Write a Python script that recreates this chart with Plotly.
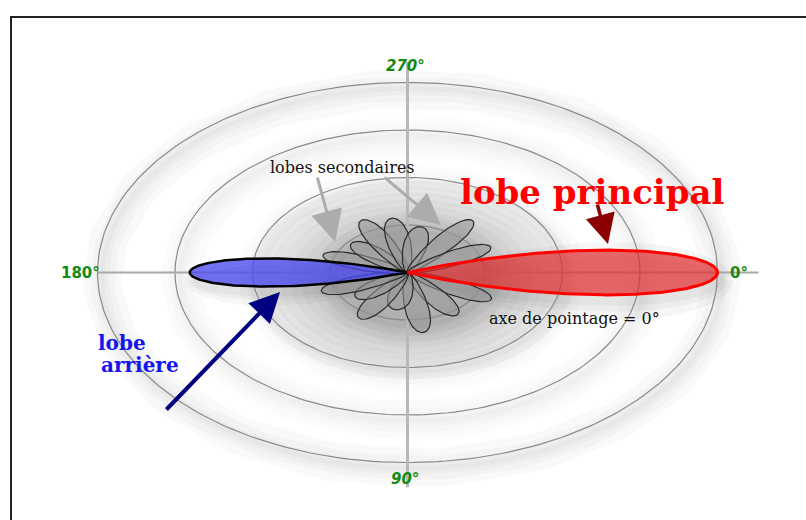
import numpy as np
import plotly.graph_objects as go

# --- Radiation pattern data (angles in degrees, 90° pointing down, radii in grid units) ---
ring_radii = [1, 2, 3, 4]
angle_labels = ["0°", "90°", "180°", "270°"]

# main lobe: direction, length, half beamwidth
main_lobe = {"angle": 0, "length": 4.0, "halfwidth": 19}
# back lobe
back_lobe = {"angle": 180, "length": 2.81, "halfwidth": 17}
# side lobes: direction, length, half thickness
side_angles = [28, 55, 81, 101, 122, 141, 160, 199, 221, 242, 260, 280, 307, 333]
side_lengths = [1.22, 1.10, 1.28, 0.80, 1.15, 0.85, 1.18, 1.15, 0.95, 1.25, 1.16, 0.98, 1.38, 1.20]
side_thickness = 0.19


def lobe_xy(angle, length, halfwidth, n=90):
    """Outline of the main/back lobe: a cosine beam starting at the origin."""
    d = np.linspace(-halfwidth, halfwidth, n)
    r = length * np.cos(np.pi / 2 * d / halfwidth)
    th = np.radians(angle + d)
    return r * np.cos(th), r * np.sin(th)


def petal_xy(angle, length, thickness, n=80):
    """Elongated petal with one end on the origin."""
    t = np.linspace(0, 2 * np.pi, n)
    u = length / 2 * (1 - np.cos(t))
    v = thickness * np.sin(t) * (0.55 + 0.45 * u / length)
    a = np.radians(angle)
    return u * np.cos(a) - v * np.sin(a), u * np.sin(a) + v * np.cos(a)


def ellipse_xy(r, n=240):
    th = np.linspace(0, 2 * np.pi, n)
    return r * np.cos(th), r * np.sin(th)


fig = go.Figure()


def add_line(x, y, color, width):
    fig.add_trace(go.Scatter(x=x, y=y, mode="lines", line=dict(color=color, width=width),
                             hoverinfo="skip", showlegend=False))


def add_fill(x, y, fillcolor, linecolor="rgba(0,0,0,0)", width=0):
    fig.add_trace(go.Scatter(x=x, y=y, mode="lines", fill="toself", fillcolor=fillcolor,
                             line=dict(color=linecolor, width=width),
                             hoverinfo="skip", showlegend=False))


# soft drop shadow under the rings
for rr in ring_radii:
    gx, gy = ellipse_xy(rr)
    strength = 0.025 if rr == 4 else 0.016
    for w in (38, 24, 13, 5):
        add_line(gx + 0.06, gy + 0.12, f"rgba(0,0,0,{strength})", w)

# soft shadow around the lobe cluster
for rh in np.linspace(2.1, 0.9, 10):
    hx, hy = ellipse_xy(rh)
    add_fill(hx + 0.05, hy + 0.15, "rgba(0,0,0,0.03)")
for a, L, hw in [(0, 4.0, 19), (180, 2.81, 17)]:
    for grow in (1.7, 1.35, 1.1):
        sx, sy = lobe_xy(a, L * (0.95 + 0.05 * grow), hw * grow)
        add_fill(sx + 0.05, sy + 0.18, "rgba(0,0,0,0.035)")

# grid rings
for rr in ring_radii:
    gx, gy = ellipse_xy(rr)
    add_line(gx, gy, "#8a8a8a", 1.2)

# axis cross
add_line([-4.0, 4.53], [0, 0], "#a8a8a8", 2)
add_line([0, 0], [-4.43, 4.52], "#b8b8b8", 3)

# side lobes
for a, L in zip(side_angles, side_lengths):
    sx, sy = petal_xy(a, L, side_thickness)
    add_fill(sx, sy, "rgba(150,150,150,0.55)", "#2a2a2a", 1.2)

# back lobe
bx, by = lobe_xy(back_lobe["angle"], back_lobe["length"], back_lobe["halfwidth"], 200)
add_fill(bx, by, "rgba(70,70,240,0.75)", "#000000", 2.5)

# main lobe
mx, my = lobe_xy(main_lobe["angle"], main_lobe["length"], main_lobe["halfwidth"], 200)
add_fill(mx, my, "rgba(225,40,40,0.68)", "#ff0000", 3)

green = "#138a13"
deg_font = dict(family="DejaVu Sans", size=15, color=green)
annotations = [
    dict(x=4.135, y=0, text="<b>" + angle_labels[0] + "</b>", xanchor="left", yanchor="middle"),
    dict(x=-0.03, y=4.347, text="<b><i>" + angle_labels[1] + "</i></b>", xanchor="center", yanchor="middle"),
    dict(x=-3.94, y=0, text="<b>" + angle_labels[2] + "</b>", xanchor="right", yanchor="middle"),
    dict(x=-0.03, y=-4.347, text="<b><i>" + angle_labels[3] + "</i></b>", xanchor="center", yanchor="middle"),
]
for an in annotations:
    an.update(showarrow=False, font=deg_font, xref="x", yref="y")

serif = "DejaVu Serif"
blue_font = dict(family=serif, size=20, color="#1414f0")
annotations += [
    dict(x=-0.845, y=-2.22, text="lobes secondaires", showarrow=False,
         font=dict(family=serif, size=16, color="#111111"), xref="x", yref="y"),
    dict(x=2.387, y=-1.70, text="<b>lobe principal</b>", showarrow=False,
         font=dict(family=serif, size=34, color="#ff0000"), xref="x", yref="y"),
    dict(x=2.161, y=0.958, text="axe de pointage = 0°", showarrow=False,
         font=dict(family=serif, size=16, color="#111111"), xref="x", yref="y"),
    dict(x=-4.02, y=1.484, text="<b>lobe</b>", showarrow=False, xanchor="left",
         font=blue_font, xref="x", yref="y"),
    dict(x=-3.98, y=1.947, text="<b>arrière</b>", showarrow=False, xanchor="left",
         font=blue_font, xref="x", yref="y"),
    # arrows
    dict(x=-0.935, y=-0.642, ax=-1.168, ay=-2.03, xref="x", yref="y", axref="x", ayref="y",
         showarrow=True, arrowhead=2, arrowsize=2.1, arrowwidth=3, arrowcolor="#acacac", text=""),
    dict(x=0.432, y=-1.0, ax=-0.316, ay=-2.03, xref="x", yref="y", axref="x", ayref="y",
         showarrow=True, arrowhead=2, arrowsize=2.1, arrowwidth=3, arrowcolor="#acacac", text=""),
    dict(x=2.587, y=-0.6, ax=2.445, ay=-1.463, xref="x", yref="y", axref="x", ayref="y",
         showarrow=True, arrowhead=2, arrowsize=1.7, arrowwidth=3.5, arrowcolor="#8b0000", text=""),
    dict(x=-1.645, y=0.41, ax=-3.129, ay=2.916, xref="x", yref="y", axref="x", ayref="y",
         showarrow=True, arrowhead=2, arrowsize=1.5, arrowwidth=4, arrowcolor="#000080", text=""),
]

fig.update_layout(
    width=806, height=520,
    margin=dict(l=0, r=0, t=0, b=0),
    paper_bgcolor="white", plot_bgcolor="white",
    showlegend=False,
    xaxis=dict(range=[-407.5 / 77.5, 398.5 / 77.5], visible=False, fixedrange=True),
    yaxis=dict(range=[247.5 / 47.5, -272.5 / 47.5], visible=False, fixedrange=True),
    annotations=annotations,
    shapes=[dict(type="rect", xref="paper", yref="paper", x0=11 / 806, x1=1.05,
                 y0=-0.05, y1=1 - 17 / 520, line=dict(color="#222222", width=2))],
)

fig.write_html("out.html")
